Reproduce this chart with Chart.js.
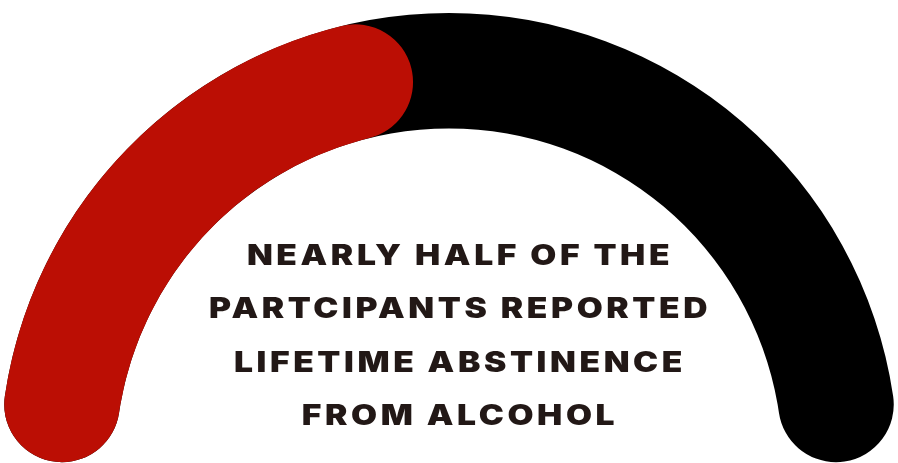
<!DOCTYPE html>
<html>
<head>
<meta charset="utf-8">
<script src="https://cdn.jsdelivr.net/npm/chart.js@4"></script>
<style>
  html, body { margin: 0; padding: 0; background: #fff; }
  #wrap { position: relative; width: 898px; height: 463px; overflow: hidden; }
  .layer { position: absolute; left: 0; top: 0; width: 898px; height: 463px; }
  #caption {
    position: absolute; left: 160px; top: 229px; width: 600px;
    text-align: center; font-family: Inter, sans-serif; font-weight: 900;
    font-size: 28px; line-height: 53.3px; letter-spacing: 3px; color: #221816;
    transform: scaleX(1.2); transform-origin: 300px 0;
  }
</style>
</head>
<body>
<div id="wrap">
  <div class="layer"><canvas id="track"></canvas></div>
  <div class="layer"><canvas id="gauge"></canvas></div>
  <div id="caption">NEARLY HALF OF THE<br>PARTCIPANTS REPORTED<br>LIFETIME ABSTINENCE<br>FROM ALCOHOL</div>
</div>
<script>
// gauge data (percent of participants)
const labels = ['Lifetime abstinence', 'Others'];
const values = [47, 53];
const trackValues = [100];
const valueColors = ['#bb0e04', 'rgba(0,0,0,0)'];
const trackColor = '#000000';

// same geometry for both layers so the red arc sits on the black track
function gaugeOptions() {
    return {
        responsive: true,
        maintainAspectRatio: false,
        animation: false,
        rotation: -90,
        circumference: 180,
        cutout: '74.3%',
        layout: { padding: { top: 12 } },
        plugins: {
            legend: { display: false },
            tooltip: { enabled: false },
        },
        events: [],
    };
}

new Chart(document.getElementById('track'), {
    type: 'doughnut',
    data: {
        labels: ['Track'],
        datasets: [{
            data: trackValues,
            backgroundColor: trackColor,
            borderWidth: 0,
            borderRadius: 100, // clamped to half the ring thickness -> round ends
        }],
    },
    options: gaugeOptions(),
});

new Chart(document.getElementById('gauge'), {
    type: 'doughnut',
    data: {
        labels: labels,
        datasets: [{
            data: values,
            backgroundColor: valueColors,
            borderWidth: 0,
            borderRadius: 100,
        }],
    },
    options: gaugeOptions(),
});
</script>
</body>
</html>
